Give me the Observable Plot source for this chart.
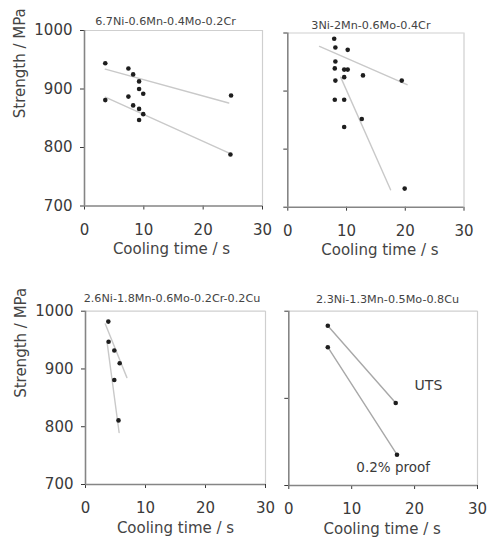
<!DOCTYPE html>
<html><head><meta charset="utf-8">
<script src="https://cdn.jsdelivr.net/npm/d3@7"></script>
<script src="https://cdn.jsdelivr.net/npm/@observablehq/plot@0.6"></script>
<style>
html,body{margin:0;padding:0;background:#fff;}
#chart{position:relative;width:488px;height:546px;overflow:hidden;font-family:"DejaVu Sans",sans-serif;}
#chart svg{position:absolute;max-width:none;}
</style></head><body><div id="chart"></div>
<script>
// ---- shared text and ticks ----
const panelTitles = ["6.7Ni-0.6Mn-0.4Mo-0.2Cr", "3Ni-2Mn-0.6Mo-0.4Cr", "2.6Ni-1.8Mn-0.6Mo-0.2Cr-0.2Cu", "2.3Ni-1.3Mn-0.5Mo-0.8Cu"];
const xTicks = [0, 10, 20, 30];
const yTicks = [700, 800, 900, 1000];
const yTicksLast = [700, 850, 1000];
const xLabel = "Cooling time / s";
const yLabel = "Strength / MPa";
const seriesLabels = ["UTS", "0.2% proof"];

// ---- panel 1: 6.7Ni-0.6Mn-0.4Mo-0.2Cr ----
const p1UtsTime = [3.5, 7.4, 8.2, 9.2, 9.2, 9.9, 24.7];
const p1UtsMPa = [944, 935, 925, 913, 900, 892, 889];
const p1ProofTime = [3.5, 7.4, 8.2, 9.2, 9.2, 9.9, 24.6];
const p1ProofMPa = [881, 887, 872, 866, 847, 857, 788];
const p1UtsFitTime = [3.5, 24.3];
const p1UtsFitMPa = [934, 876];
const p1ProofFitTime = [3.5, 24.3];
const p1ProofFitMPa = [886, 791];

// ---- panel 2: 3Ni-2Mn-0.6Mo-0.4Cr ----
const p2UtsTime = [7.9, 8.1, 10.2, 8.1, 9.6, 10.2, 12.8, 19.4];
const p2UtsMPa = [990, 975, 971, 951, 937, 937, 927, 918];
const p2ProofTime = [8.0, 9.6, 8.1, 8.0, 9.6, 12.6, 9.6, 19.9];
const p2ProofMPa = [939, 924, 918, 885, 885, 852, 838, 732];
const p2UtsFitTime = [5.4, 20.3];
const p2UtsFitMPa = [977, 911];
const p2ProofFitTime = [9.0, 17.5];
const p2ProofFitMPa = [924, 730];

// ---- panel 3: 2.6Ni-1.8Mn-0.6Mo-0.2Cr-0.2Cu ----
const p3UtsTime = [3.8, 4.8, 5.7];
const p3UtsMPa = [982, 932, 910];
const p3ProofTime = [3.85, 4.8, 5.5];
const p3ProofMPa = [947, 881, 811];
const p3UtsFitTime = [3.3, 6.9];
const p3UtsFitMPa = [978, 885];
const p3ProofFitTime = [3.6, 5.6];
const p3ProofFitMPa = [946, 790];

// ---- panel 4: 2.3Ni-1.3Mn-0.5Mo-0.8Cu ----
const p4UtsTime = [6.2, 17.0];
const p4UtsMPa = [975, 842];
const p4ProofTime = [6.2, 17.2];
const p4ProofMPa = [938, 753];

const zip = (xs, ys) => xs.map((x, i) => ({x, y: ys[i]}));

function panel(cfg) {
  const marks = [
    Plot.ruleY([1000], {stroke: "#cfcfcf", strokeWidth: 1.2}),
    Plot.ruleX([30], {stroke: "#cfcfcf", strokeWidth: 1.2}),
    ...cfg.lines.map(l => Plot.line(l.data, {x: "x", y: "y", stroke: l.stroke, strokeWidth: 1.4})),
    ...cfg.dots.map(d => Plot.dot(d, {x: "x", y: "y", r: 2.3, fill: "#1e1e1e", stroke: "none"})),
    Plot.ruleX([0], {stroke: "#858585", strokeWidth: 1.6}),
    Plot.ruleY([700], {stroke: "#858585", strokeWidth: 1.6}),
    Plot.text([cfg.title], {text: d => d, frameAnchor: "top", dx: cfg.titleDx, dy: -cfg.titleGap, fontSize: 11.2, fill: "#444"}),
    Plot.text([xLabel], {text: d => d, frameAnchor: "bottom", dx: cfg.xLabelDx, dy: 48, fontSize: 15, fill: "#444"}),
    ...(cfg.showYLabel ? [Plot.text([yLabel], {text: d => d, frameAnchor: "left", dx: -64, rotate: -90, fontSize: 15, fill: "#444"})] : []),
    ...(cfg.extra || [])
  ];
  const svg = Plot.plot({
    width: cfg.width, height: cfg.height,
    marginLeft: cfg.ml, marginRight: cfg.mr, marginTop: cfg.mt, marginBottom: cfg.mb,
    style: {background: "transparent", overflow: "visible", fontFamily: "DejaVu Sans, sans-serif", fontSize: "15px", color: "#3a3a3a"},
    x: {domain: [0, 30], ticks: xTicks, tickSize: 4, tickPadding: 14, label: null, tickFormat: d => String(d)},
    y: {domain: [700, 1000], ticks: cfg.yTicks, tickSize: 4, tickPadding: 8, label: null,
        tickFormat: cfg.showYLabel ? (d => String(d)) : (() => "")},
    marks
  });
  svg.style.left = cfg.left + "px";
  svg.style.top = cfg.top + "px";
  document.getElementById("chart").appendChild(svg);
}

const light = "#c9c9c9";

panel({
  left: 0, top: 0, width: 270, height: 270, ml: 84, mr: 8, mt: 30, mb: 64.5,
  title: panelTitles[0], titleDx: -8, titleGap: 13, xLabelDx: -2, showYLabel: true, yTicks,
  lines: [{data: zip(p1UtsFitTime, p1UtsFitMPa), stroke: light}, {data: zip(p1ProofFitTime, p1ProofFitMPa), stroke: light}],
  dots: [zip(p1UtsTime, p1UtsMPa), zip(p1ProofTime, p1ProofMPa)]
});

panel({
  left: 240, top: 0, width: 248, height: 270, ml: 47.3, mr: 24.5, mt: 32.5, mb: 63.3,
  title: panelTitles[1], titleDx: -5, titleGap: 12, xLabelDx: 4, showYLabel: false, yTicks,
  lines: [{data: zip(p2UtsFitTime, p2UtsFitMPa), stroke: light}, {data: zip(p2ProofFitTime, p2ProofFitMPa), stroke: light}],
  dots: [zip(p2UtsTime, p2UtsMPa), zip(p2ProofTime, p2ProofMPa)]
});

panel({
  left: 0, top: 270, width: 270, height: 276, ml: 85, mr: 5, mt: 40.7, mb: 62,
  title: panelTitles[2], titleDx: -3.5, titleGap: 17, xLabelDx: 0, showYLabel: true, yTicks,
  lines: [{data: zip(p3UtsFitTime, p3UtsFitMPa), stroke: light}, {data: zip(p3ProofFitTime, p3ProofFitMPa), stroke: light}],
  dots: [zip(p3UtsTime, p3UtsMPa), zip(p3ProofTime, p3ProofMPa)]
});

const p4Uts = zip(p4UtsTime, p4UtsMPa);
const p4Proof = zip(p4ProofTime, p4ProofMPa);
panel({
  left: 240, top: 270, width: 248, height: 276, ml: 48.3, mr: 11, mt: 40.7, mb: 61,
  title: panelTitles[3], titleDx: 4.4, titleGap: 16, xLabelDx: -1, showYLabel: false, yTicks: yTicksLast,
  lines: [{data: p4Uts, stroke: "#a8a8a8"}, {data: p4Proof, stroke: "#a8a8a8"}],
  dots: [p4Uts, p4Proof],
  extra: [
    Plot.text([seriesLabels[0]], {text: d => d, x: 22.2, y: 872, fontSize: 14, fill: "#3a3a3a"}),
    Plot.text([seriesLabels[1]], {text: d => d, x: 16.6, y: 731, fontSize: 13.5, fill: "#3a3a3a"})
  ]
});
</script></body></html>
